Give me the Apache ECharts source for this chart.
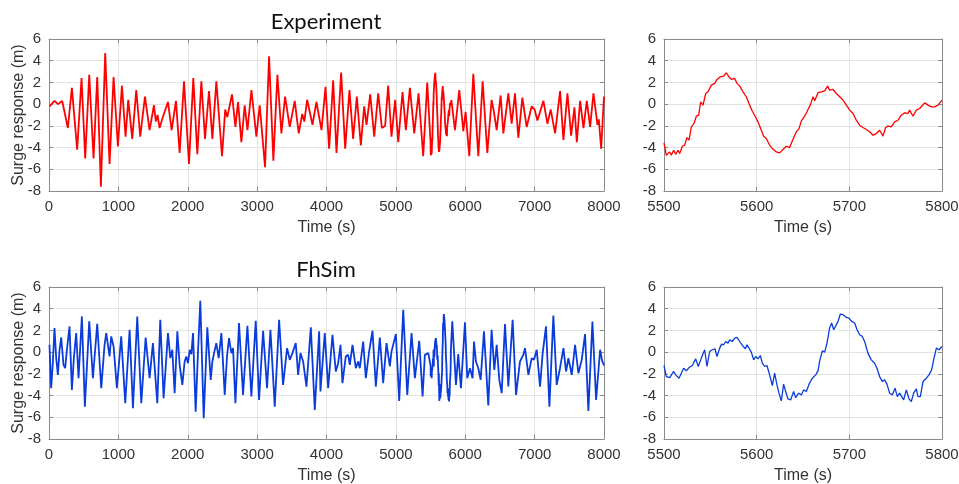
<!DOCTYPE html>
<html>
<head>
<meta charset="utf-8">
<script src="https://cdn.jsdelivr.net/npm/echarts@6/dist/echarts.min.js"></script>
<style>
html,body{margin:0;padding:0;background:#fff;}
#c{width:959px;height:484px;}
</style>
</head>
<body>
<div id="c"></div>
<script>
// ---- Experiment, full record (s, m) ----
var expTime = [7,79,130,190,272,330,406,469,522,580,642,695,748,810,873,931,993,1051,1104,1142,1200,1258,1315,1383,1450,1513,1540,1565,1594,1640,1715,1768,1830,1883,1946,2018,2080,2138,2196,2249,2306,2355,2412,2494,2540,2570,2638,2687,2725,2773,2821,2860,2918,2989,3037,3114,3172,3234,3292,3350,3403,3470,3542,3600,3650,3680,3721,3798,3855,3928,3986,4038,4096,4144,4211,4269,4331,4384,4437,4495,4543,4577,4630,4688,4745,4798,4845,4889,4937,4990,5034,5096,5144,5202,5265,5327,5394,5452,5852,5914,5972,6005,6058,6116,6188,6251,6318,6380,6410,6453,6510,6549,6621,6669,6717,6765,6823,6885,6958,7000,7040,7127,7184,7232,7295,7367,7415,7473,7526,7574,7608,7656,7704,7752,7800,7848,7906,7925,7959,8000];
var expSurge = [-0.2,0.3,0.0,0.3,-2.2,1.5,-4.2,2.4,-5.0,2.7,-5.0,2.5,-7.6,4.7,-5.5,2.5,-3.9,1.7,-3.0,0.4,-3.2,1.3,-3.0,0.7,-2.4,-0.1,-1.6,-1.0,-2.2,-1.2,0.2,-2.4,0.3,-4.5,2.1,-5.5,2.4,-4.6,2.1,-3.2,1.2,-3.2,2.1,-4.8,-0.5,-1.2,0.9,-2.1,0.2,-3.5,-0.1,-2.4,1.3,-3.0,-0.1,-5.8,4.4,-5.2,2.7,-2.7,0.7,-2.1,0.3,-2.7,-0.9,-1.6,0.4,-1.9,0.2,-2.4,1.6,-4.1,2.2,-4.5,2.9,-4.1,1.3,-3.2,0.7,-3.8,-0.2,-1.9,0.9,-3.0,1.0,-2.2,-2.0,1.7,-3.0,0.4,-3.5,1.1,-2.4,1.5,-2.7,1.0,-4.8,2.0,-2.4,1.3,-2.5,-0.7,-4.8,2.8,-4.8,2.1,-4.5,0.4,-0.6,-2.4,0.8,-2.7,1.0,-1.8,1.0,-3.1,0.6,-2.1,-0.2,-0.5,-1.5,0.3,-1.8,-0.5,-2.7,1.2,-3.3,1.0,-2.9,-0.3,-3.5,0.3,-2.2,0.3,-2.1,1.0,-1.9,-1.4,-4.1,0.7];

// ---- Experiment, 5500-5800 s detail ----
var expZoomTime = [5500,5502.5,5506.1,5507.9,5510.4,5512.6,5515.1,5516.9,5519.8,5522.3,5524.8,5527.0,5529.5,5532.4,5534.9,5537.4,5539.6,5542.1,5545.0,5547.5,5551.1,5554.7,5557.2,5560.8,5564.4,5567.3,5570.1,5572.7,5576.3,5578.8,5581.7,5585.2,5588.8,5591.7,5595.3,5597.8,5601.4,5605.0,5607.5,5610.4,5614.0,5616.9,5621.2,5624.8,5628.4,5632.0,5635.6,5638.5,5642.8,5645.7,5648.2,5651.8,5655.4,5658.3,5660.8,5662.6,5666.2,5669.8,5673.4,5676.6,5678.7,5682.4,5686.0,5689.6,5693.2,5696.8,5700.4,5704.0,5707.5,5711.1,5714.7,5718.3,5721.9,5725.5,5729.1,5732.7,5736.3,5739.2,5741.7,5745.3,5748.9,5752.5,5756.1,5759.7,5763.3,5765.1,5768.7,5772.3,5775.9,5781.3,5784.9,5788.5,5792.1,5795.7,5800];
var expZoomSurge = [-3.57,-4.71,-4.40,-4.71,-4.25,-4.62,-4.25,-4.55,-3.88,-3.78,-3.08,-3.32,-2.09,-1.78,-1.11,-1.02,0.22,-0.09,0.98,1.14,1.75,1.91,2.28,2.52,2.58,2.89,2.52,2.28,2.37,1.91,1.66,1.14,0.68,0.06,-0.65,-1.02,-1.63,-2.40,-2.95,-3.17,-3.78,-4.09,-4.40,-4.49,-4.18,-3.88,-4.00,-3.38,-2.55,-2.25,-1.54,-1.11,-0.49,0,0.68,0.31,1.05,1.14,1.23,1.66,1.29,1.35,0.98,0.68,0.37,-0.09,-0.55,-0.86,-1.48,-1.94,-2.15,-2.34,-2.55,-2.86,-2.71,-2.40,-2.95,-2.15,-2.03,-2.09,-1.63,-1.48,-1.02,-0.80,-0.86,-0.55,-1.11,-0.55,-0.40,0.12,-0.09,-0.25,-0.25,-0.09,0.37];

// ---- FhSim, full record (s, m) ----
var simTime = [7,31,55,79,104,128,152,176,209,233,258,296,330,359,392,426,474,517,580,633,695,753,801,825,873,897,931,979,1041,1099,1162,1210,1272,1330,1393,1450,1498,1561,1604,1652,1715,1749,1777,1811,1850,1883,1922,1955,1979,2003,2028,2052,2076,2114,2148,2181,2230,2282,2331,2355,2379,2412,2446,2485,2533,2566,2595,2629,2653,2687,2739,2797,2860,2917,2980,3028,3086,3143,3192,3254,3317,3374,3432,3471,3509,3557,3591,3625,3663,3711,3774,3831,3894,3913,3975,4024,4086,4134,4168,4202,4230,4278,4312,4336,4375,4423,4456,4480,4529,4567,4615,4663,4711,4769,4817,4865,4913,4937,5000,5048,5106,5164,5226,5274,5337,5385,5418,5467,5813,5866,5899,5938,5996,6029,6068,6106,6126,6154,6188,6222,6270,6332,6380,6419,6453,6491,6525,6573,6621,6683,6732,6789,6837,6861,6910,6958,6991,7030,7078,7116,7164,7213,7270,7318,7366,7415,7453,7487,7535,7583,7631,7679,7727,7775,7833,7886,7944,7973,8000];
var simSurge = [0.68,-3.32,-1.02,2.22,-0.55,-2.09,0.22,1.35,-1.17,-1.48,0.22,2.37,-3.48,-0.49,1.75,-2.40,3.29,-5.02,2.83,-2.40,2.62,-3.32,0.68,1.75,-0.40,1.45,0.52,-3.32,1.45,-4.71,2.06,-5.17,3.29,-4.71,1.35,-2.40,0.83,-4.71,2.98,-4.25,1.75,-0.55,0.22,-3.78,1.91,-1.17,-3.02,-0.86,-0.40,-1.02,0.22,-0.18,1.75,-5.48,0.06,4.74,-6.09,2.28,-2.55,-0.86,-0.09,0.83,-0.55,1.75,-3.94,-0.40,1.29,-0.09,0.37,-4.71,2.68,-3.94,2.43,-4.09,2.89,-4.40,1.97,-3.32,2.06,-5.02,2.98,-3.02,0.37,-0.71,-0.09,0.83,-2.09,-0.09,-0.86,-3.17,2.28,-5.32,1.91,-3.63,1.75,-3.32,1.60,-1.78,-1.02,0.68,-2.86,-0.40,-0.25,-1.17,0.68,-1.48,-0.86,-1.48,0.98,-2.40,0.06,1.97,-3.17,1.35,-2.86,0.83,-1.32,0.06,1.66,-4.49,3.91,-3.94,1.75,-2.40,1.05,-4.09,-0.25,-0.09,2.83,-3.02,-0.18,-3.32,2.74,-2.40,-1.48,-2.40,0.98,-0.86,-1.48,-2.55,1.91,-4.92,2.06,-1.63,0.68,-2.55,-3.78,2.58,-3.17,2.98,-3.94,-0.86,-0.25,0.37,-2.09,-0.55,-0.71,0.22,-3.17,-0.09,2.37,-5.02,3.38,-3.02,-1.48,0.37,-1.78,-0.55,-2.09,0.68,-1.94,-0.71,1.66,-5.42,2.83,-4.40,0.22,-0.80,-1.23];

// ---- FhSim, 5500-5800 s detail ----
var simZoomTime = [5500,5502.5,5506.1,5507.9,5510.4,5512.6,5516.2,5518.7,5521.2,5524.1,5527.0,5530.6,5534.2,5537.0,5540.3,5543.9,5546.4,5549.3,5552.2,5555.0,5557.2,5560.1,5562.2,5564.4,5566.5,5569.1,5570.9,5573.7,5576.3,5578.8,5581.7,5584.5,5587.8,5589.6,5591.7,5594.2,5596.8,5598.9,5601.4,5604.0,5606.1,5608.6,5611.1,5614.0,5616.9,5619.4,5621.9,5624.1,5626.6,5629.1,5631.3,5633.8,5636.7,5639.9,5642.1,5645.3,5648.2,5650.7,5653.6,5656.5,5660.1,5663.7,5666.2,5668.0,5670.9,5673.4,5675.9,5678.7,5680.9,5683.1,5685.2,5687.8,5690.3,5693.2,5696.8,5699.6,5702.5,5705.8,5708.3,5711.1,5714.0,5716.5,5720.1,5723.7,5727.3,5729.8,5732.7,5735.6,5738.1,5740.6,5743.5,5746.4,5749.3,5751.8,5754.3,5756.1,5758.6,5761.5,5764.4,5766.9,5769.4,5772.3,5774.1,5776.6,5779.5,5783.1,5786.0,5788.8,5791.4,5793.9,5796.8,5800];
var simZoomSurge = [-1.23,-2.25,-2.34,-2.40,-1.78,-2.09,-2.40,-1.94,-1.48,-1.72,-1.42,-1.23,-0.62,-1.32,-0.55,0.22,-1.32,0.06,0.22,0.31,-0.40,0.37,0.74,0.68,0.98,0.83,1.14,0.98,1.29,1.35,0.98,0.62,0.31,0.68,0.68,0,-0.71,-0.40,-0.62,-0.31,-1.02,-1.32,-1.23,-2.09,-3.08,-1.94,-3.02,-3.78,-4.49,-2.95,-3.63,-4.31,-4.40,-3.63,-4.18,-3.78,-3.94,-3.48,-3.63,-2.95,-2.40,-2.09,-1.72,-0.80,0.12,0,0.83,2.22,2.68,2.06,2.06,2.83,3.51,3.45,3.20,3.14,2.83,2.68,2.06,1.60,1.45,0.98,-0.09,-0.71,-1.02,-1.48,-2.25,-2.71,-2.55,-2.95,-3.78,-3.94,-3.32,-4.09,-3.78,-3.63,-4.40,-3.48,-4.31,-4.55,-3.78,-3.38,-4.09,-4.09,-2.71,-2.40,-2.09,-1.63,-0.55,0.37,0.22,0.52];

var xTicksLong = [0, 8000, 1000];
var xTicksZoom = [5500, 5800, 100];
var yTicks = [-8, 6, 2];
var titles = ['Experiment', 'FhSim'];
var yName = 'Surge response (m)';
var xName = 'Time (s)';

function pairs(t, v) { return t.map(function (x, i) { return [x, v[i]]; }); }
function merged(t, v, zt, zv) {
  var out = [];
  for (var i = 0; i < t.length; i++) if (t[i] < zt[0]) out.push([t[i], v[i]]);
  for (var j = 0; j < zt.length; j++) out.push([zt[j], zv[j]]);
  for (var k = 0; k < t.length; k++) if (t[k] > zt[zt.length - 1]) out.push([t[k], v[k]]);
  return out;
}
function plain(v) { return String(v); }

var FONT = 'Liberation Sans, Arial, sans-serif';
var AX = '#8a8a8a', TXT = '#333333', GRID = '#e3e3e3';

var grids = [
  {left: 49, top: 39, width: 555, height: 152},
  {left: 664, top: 39, width: 278, height: 152},
  {left: 49, top: 287, width: 555, height: 152},
  {left: 664, top: 287, width: 278, height: 152}
];
grids.forEach(function (g) { g.outerBoundsMode = 'none'; g.containLabel = false; });

var xAxes = [], yAxes = [];
grids.forEach(function (g, i) {
  var tk = (i % 2 === 0) ? xTicksLong : xTicksZoom;
  xAxes.push({
    type: 'value', gridIndex: i, min: tk[0], max: tk[1], interval: tk[2], position: 'bottom',
    axisLine: {show: true, onZero: false, lineStyle: {color: AX, width: 1}},
    axisTick: {show: true, inside: true, length: 4, lineStyle: {color: AX}},
    axisLabel: {show: true, color: TXT, fontSize: 15, fontFamily: FONT, margin: 8, formatter: plain},
    splitLine: {show: true, lineStyle: {color: GRID, width: 1}},
    name: xName, nameLocation: 'middle', nameGap: 29,
    nameTextStyle: {color: TXT, fontSize: 16, fontFamily: FONT}
  });
  xAxes.push({
    type: 'value', gridIndex: i, min: tk[0], max: tk[1], interval: tk[2], position: 'top',
    axisLine: {show: true, onZero: false, lineStyle: {color: AX, width: 1}},
    axisTick: {show: true, inside: true, length: 4, lineStyle: {color: AX}},
    axisLabel: {show: false}, splitLine: {show: false}
  });
  yAxes.push({
    type: 'value', gridIndex: i, min: yTicks[0], max: yTicks[1], interval: yTicks[2], position: 'left',
    axisLine: {show: true, onZero: false, lineStyle: {color: AX, width: 1}},
    axisTick: {show: true, inside: true, length: 4, lineStyle: {color: AX}},
    axisLabel: {show: true, color: TXT, fontSize: 15, fontFamily: FONT, margin: 8, formatter: plain},
    splitLine: {show: true, lineStyle: {color: GRID, width: 1}}
  });
  yAxes.push({
    type: 'value', gridIndex: i, min: yTicks[0], max: yTicks[1], interval: yTicks[2], position: 'right',
    axisLine: {show: true, onZero: false, lineStyle: {color: AX, width: 1}},
    axisTick: {show: true, inside: true, length: 4, lineStyle: {color: AX}},
    axisLabel: {show: false}, splitLine: {show: false}
  });
});

// Rotated y-axis names for the two left panels
var graphics = [0, 2].map(function (gi) {
  var g = grids[gi];
  return {
    type: 'text', x: 19, y: g.top + g.height / 2, rotation: Math.PI / 2,
    style: {text: yName, align: 'center', verticalAlign: 'middle', fill: TXT, fontSize: 16, fontFamily: FONT}
  };
});

var RED = '#ff0000', BLUE = '#0a3cdc';
var series = [
  {type: 'line', xAxisIndex: 0, yAxisIndex: 0, data: merged(expTime, expSurge, expZoomTime, expZoomSurge), color: RED, lineStyle: {width: 1.8}},
  {type: 'line', xAxisIndex: 2, yAxisIndex: 2, data: pairs(expZoomTime, expZoomSurge), color: RED, lineStyle: {width: 1.3}},
  {type: 'line', xAxisIndex: 4, yAxisIndex: 4, data: merged(simTime, simSurge, simZoomTime, simZoomSurge), color: BLUE, lineStyle: {width: 1.8}},
  {type: 'line', xAxisIndex: 6, yAxisIndex: 6, data: pairs(simZoomTime, simZoomSurge), color: BLUE, lineStyle: {width: 1.3}}
];
series.forEach(function (s) { s.showSymbol = false; s.symbol = 'none'; s.animation = false; s.clip = true; });

var chart = echarts.init(document.getElementById('c'), null, {renderer: 'canvas'});
chart.setOption({
  backgroundColor: '#ffffff',
  animation: false,
  title: [
    {text: titles[0], left: 321, top: 6, textAlign: 'center', textStyle: {fontFamily: 'Lato, Open Sans, sans-serif', fontWeight: 'normal', fontSize: 22, color: '#111'}},
    {text: titles[1], left: 321, top: 254, textAlign: 'center', textStyle: {fontFamily: 'Lato, Open Sans, sans-serif', fontWeight: 'normal', fontSize: 22, color: '#111'}}
  ],
  graphic: graphics,
  grid: grids,
  xAxis: xAxes,
  yAxis: yAxes,
  series: series
});
</script>
</body>
</html>
